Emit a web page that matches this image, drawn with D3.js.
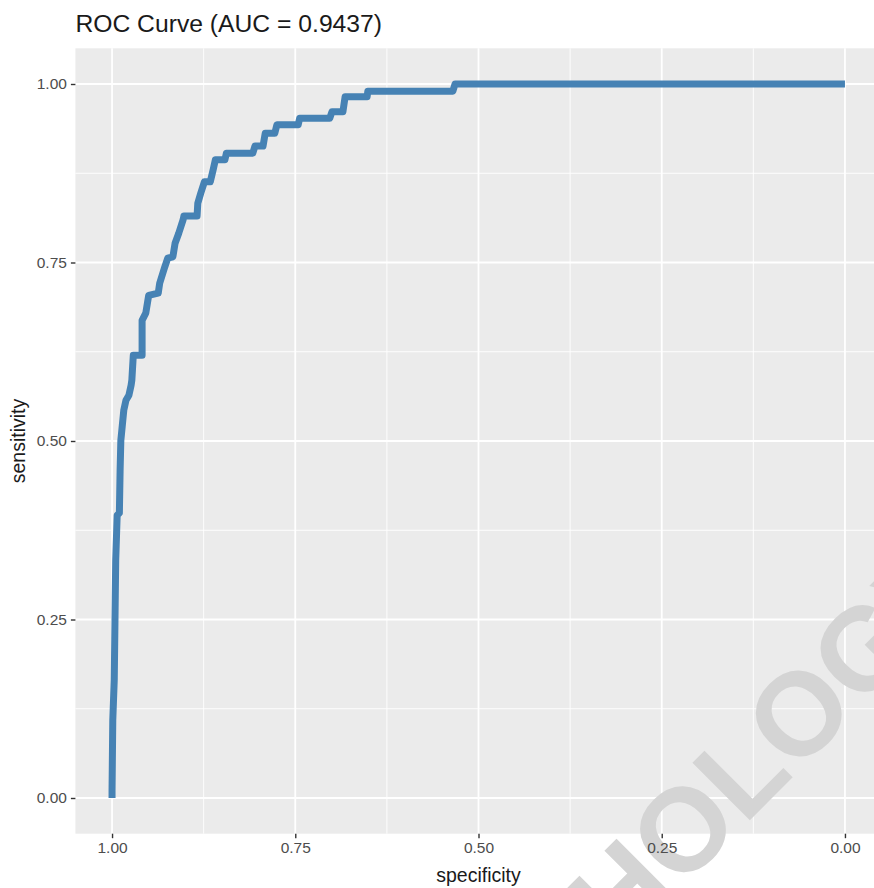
<!DOCTYPE html>
<html>
<head>
<meta charset="utf-8">
<script src="https://cdn.jsdelivr.net/npm/d3@7"></script>
<style>
  html, body { margin: 0; padding: 0; background: #fff; }
  svg { display: block; font-family: "Liberation Sans", Arial, sans-serif; }
</style>
</head>
<body>
<svg id="chart" width="874" height="888"></svg>
<script>
// ROC curve points
const specificity = [1.000, 1.000, 0.999, 0.997, 0.996, 0.995, 0.993, 0.990, 0.989, 0.988,
    0.986, 0.984, 0.981, 0.977, 0.974, 0.973, 0.971, 0.959, 0.959, 0.954,
    0.950, 0.937, 0.935, 0.928, 0.924, 0.917, 0.914, 0.909, 0.903, 0.902,
    0.884, 0.883, 0.879, 0.874, 0.866, 0.862, 0.859, 0.846, 0.844, 0.808,
    0.805, 0.794, 0.791, 0.778, 0.775, 0.746, 0.744, 0.703, 0.700, 0.685,
    0.682, 0.652, 0.651, 0.535, 0.532, 0.000];
const sensitivity = [0.000, 0.011, 0.109, 0.165, 0.249, 0.333, 0.396, 0.399, 0.459, 0.501,
    0.522, 0.543, 0.557, 0.564, 0.578, 0.585, 0.620, 0.620, 0.669, 0.679,
    0.704, 0.707, 0.721, 0.744, 0.756, 0.758, 0.777, 0.791, 0.810, 0.815,
    0.815, 0.833, 0.847, 0.863, 0.863, 0.880, 0.894, 0.894, 0.903, 0.903,
    0.913, 0.913, 0.931, 0.931, 0.943, 0.943, 0.952, 0.952, 0.961, 0.961,
    0.982, 0.982, 0.990, 0.990, 1.000, 1.000];

const majorTicks = [1.00, 0.75, 0.50, 0.25, 0.00];
const minorTicks = [0.875, 0.625, 0.375, 0.125];
const chartTitle = 'ROC Curve (AUC = 0.9437)';
const watermark = 'HOLOGY';

const svg = d3.select('#chart');

// 面板区域 (ggplot 默认 5% 扩展)
const panel = { left: 75.4, right: 881.6, top: 48.3, bottom: 833.7 };

const x = d3.scaleLinear().domain([1.05, -0.05]).range([panel.left, panel.right]);
const y = d3.scaleLinear().domain([-0.05, 1.05]).range([panel.bottom, panel.top]);

// 背景
svg.append('rect')
    .attr('x', panel.left)
    .attr('y', panel.top)
    .attr('width', panel.right - panel.left)
    .attr('height', panel.bottom - panel.top)
    .attr('fill', '#EBEBEB');

const grid = svg.append('g').attr('class', 'grid');

// 次网格线
grid.selectAll('.minor-x')
    .data(minorTicks)
    .join('line')
    .attr('x1', d => x(d)).attr('x2', d => x(d))
    .attr('y1', panel.top).attr('y2', panel.bottom)
    .attr('stroke', '#fff').attr('stroke-width', 0.9);

grid.selectAll('.minor-y')
    .data(minorTicks)
    .join('line')
    .attr('x1', panel.left).attr('x2', panel.right)
    .attr('y1', d => y(d)).attr('y2', d => y(d))
    .attr('stroke', '#fff').attr('stroke-width', 0.9);

// 主网格线
grid.append('g').selectAll('line')
    .data(majorTicks)
    .join('line')
    .attr('x1', d => x(d)).attr('x2', d => x(d))
    .attr('y1', panel.top).attr('y2', panel.bottom)
    .attr('stroke', '#fff').attr('stroke-width', 1.8);

grid.append('g').selectAll('line')
    .data(majorTicks)
    .join('line')
    .attr('x1', panel.left).attr('x2', panel.right)
    .attr('y1', d => y(d)).attr('y2', d => y(d))
    .attr('stroke', '#fff').attr('stroke-width', 1.8);

// 水印 (在刻度文字之下)
svg.append('text')
    .attr('transform', 'translate(800,770) rotate(-45)')
    .attr('text-anchor', 'middle')
    .attr('font-size', '118px')
    .attr('font-weight', 'bold')
    .attr('fill', '#d4d4d4')
    .text(watermark);

// 坐标轴
const fmt = d3.format('.2f');

const xAxis = svg.append('g')
    .attr('transform', `translate(0,${panel.bottom})`)
    .call(d3.axisBottom(x).tickValues(majorTicks).tickFormat(fmt).tickSize(4.5).tickPadding(4));

const yAxis = svg.append('g')
    .attr('transform', `translate(${panel.left},0)`)
    .call(d3.axisLeft(y).tickValues(majorTicks).tickFormat(fmt).tickSize(4.5).tickPadding(4));

[xAxis, yAxis].forEach(ax => {
    ax.select('.domain').remove();
    ax.selectAll('.tick line').attr('stroke', '#333').attr('stroke-width', 1.4);
    ax.selectAll('.tick text')
        .attr('fill', '#4D4D4D')
        .attr('font-size', '15.5px')
        .attr('font-family', '"Liberation Sans", Arial, sans-serif');
});

// ROC 曲线
const points = specificity.map((s, i) => ({ spec: s, sens: sensitivity[i] }));

const line = d3.line()
    .x(d => x(d.spec))
    .y(d => y(d.sens));

svg.append('path')
    .datum(points)
    .attr('d', line)
    .attr('fill', 'none')
    .attr('stroke', '#4682B4')
    .attr('stroke-width', 7)
    .attr('stroke-linejoin', 'round')
    .attr('stroke-linecap', 'butt');

// 标题与轴标题
svg.append('text')
    .attr('x', panel.left)
    .attr('y', 32)
    .attr('font-size', '24.7px')
    .attr('fill', '#1a1a1a')
    .text(chartTitle);

svg.append('text')
    .attr('x', (panel.left + panel.right) / 2)
    .attr('y', 882)
    .attr('text-anchor', 'middle')
    .attr('font-size', '19.5px')
    .attr('fill', '#1a1a1a')
    .text('specificity');

svg.append('text')
    .attr('transform', `translate(25,${(panel.top + panel.bottom) / 2}) rotate(-90)`)
    .attr('text-anchor', 'middle')
    .attr('font-size', '19.5px')
    .attr('fill', '#1a1a1a')
    .text('sensitivity');
</script>
</body>
</html>
